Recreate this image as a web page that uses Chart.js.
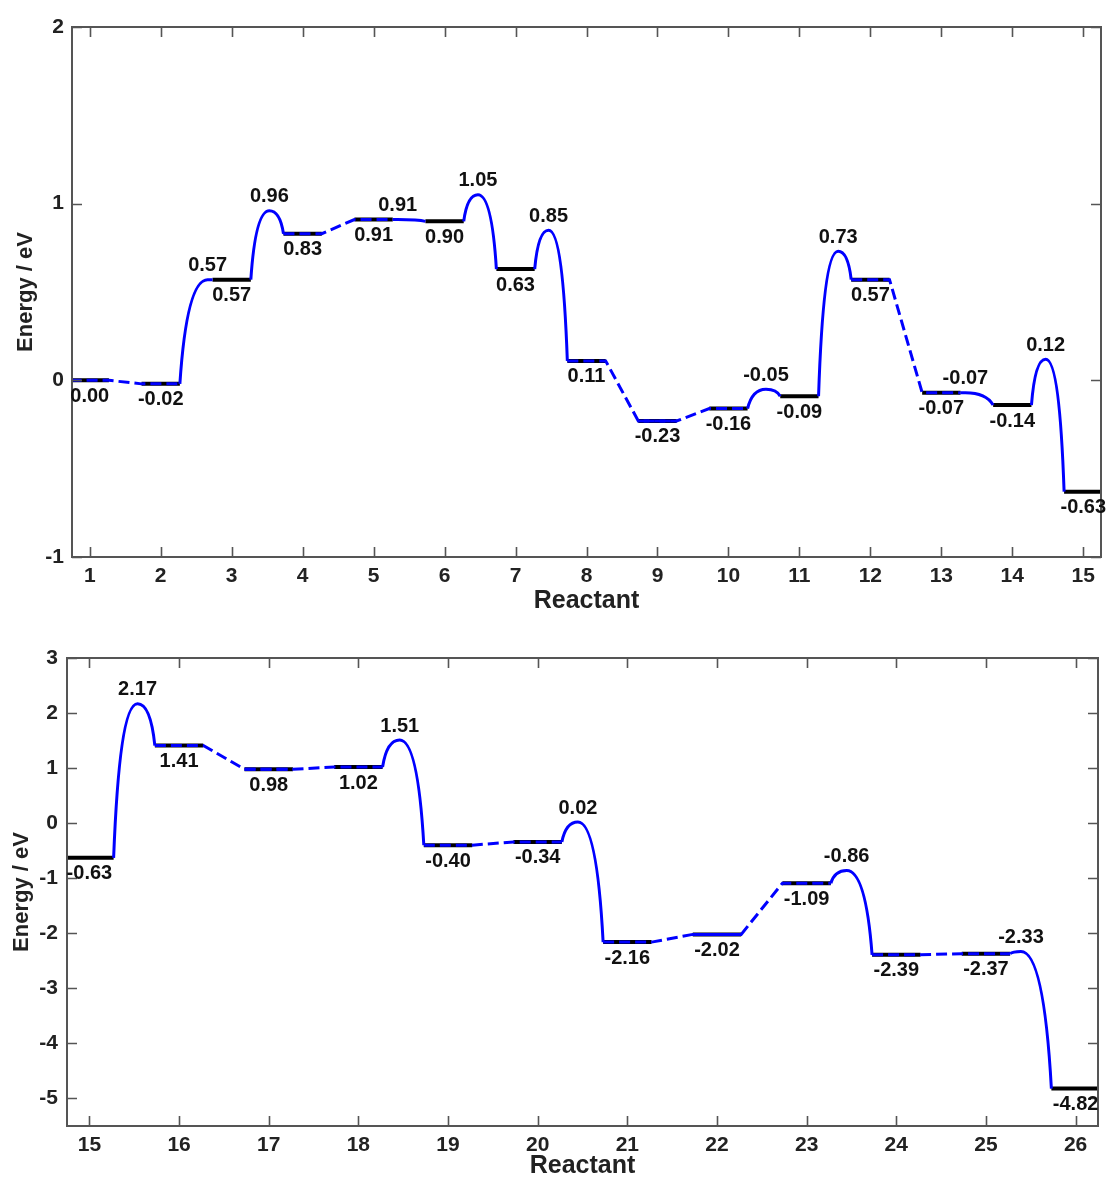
<!DOCTYPE html>
<html>
<head>
<meta charset="utf-8">
<title>Energy profile</title>
<script src="https://cdn.jsdelivr.net/npm/chart.js@4.4.1/dist/chart.umd.min.js"></script>
<style>
  html, body { margin: 0; padding: 0; background: #ffffff; }
  canvas { display: block; }
</style>
</head>
<body>
<canvas id="upper" width="1107" height="620"></canvas>
<canvas id="lower" width="1107" height="559"></canvas>
<script>
// ---- First half of the pathway: reactants 1–15 ----
const reactantsA = [1, 2, 3, 4, 5, 6, 7, 8, 9, 10, 11, 12, 13, 14, 15];
const levelsA    = [0.00, -0.02, 0.57, 0.83, 0.91, 0.90, 0.63, 0.11, -0.23, -0.16, -0.09, 0.57, -0.07, -0.14, -0.63];
// barrier between step i and i+1 (null = barrierless, drawn dashed)
const barriersA  = [null, 0.57, 0.96, null, 0.91, 1.05, 0.85, null, null, -0.05, 0.73, null, -0.07, 0.12];
const energyTicksA = [-1, 0, 1, 2];

// ---- Second half of the pathway: reactants 15–26 ----
const reactantsB = [15, 16, 17, 18, 19, 20, 21, 22, 23, 24, 25, 26];
const levelsB    = [-0.63, 1.41, 0.98, 1.02, -0.40, -0.34, -2.16, -2.02, -1.09, -2.39, -2.37, -4.82];
const barriersB  = [2.17, null, null, 1.51, null, 0.02, null, null, -0.86, null, -2.33];
const energyTicksB = [-5, -4, -3, -2, -1, 0, 1, 2, 3];

const FONT = '"Liberation Sans", Arial, Helvetica, sans-serif';
const BLUE = '#0000ff';
const HALF = 0.27;        // half-width of a level bar, in reactant units

// the crest of a barrier leans toward the higher of its two neighbouring levels
function crestPosition(x0, x1, eLeft, eTS, eRight) {
  const a = Math.pow(Math.max(eTS - eLeft, 0), 0.25);
  const b = Math.pow(Math.max(eTS - eRight, 0), 0.25);
  let f = (a + b) > 0 ? a / (a + b) : 0.5;
  f = Math.min(0.85, Math.max(0.15, f));
  return x0 + f * (x1 - x0);
}

function buildProfile(xs, levels, barriers) {
  const datasets = [];
  const notes = [];
  const crests = [];
  xs.forEach((x, i) => {
    datasets.push({
      data: [{ x: x - HALF, y: levels[i] }, { x: x + HALF, y: levels[i] }],
      borderColor: '#000000', borderWidth: 4, order: 1
    });
    notes.push({ x: x, y: levels[i], text: levels[i].toFixed(2), below: true });
  });
  barriers.forEach((ts, i) => {
    const xL = xs[i], xR = xs[i + 1], eL = levels[i], eR = levels[i + 1];
    if (ts === null) {
      datasets.push({
        data: [{ x: xL - HALF, y: eL }, { x: xL + HALF, y: eL }, { x: xR - HALF, y: eR }, { x: xR + HALF, y: eR }],
        borderColor: BLUE, borderWidth: 3, borderDash: [11, 5], order: 0
      });
    } else {
      const x0 = xL + HALF, x1 = xR - HALF;
      const xc = crestPosition(x0, x1, eL, ts, eR);
      crests.push({ x0, xc, x1, eL, ts, eR });
      notes.push({ x: xc, y: ts, text: ts.toFixed(2), below: false });
    }
  });
  return { datasets, notes, crests };
}

// barrier humps: rise steeply from one level, round over the transition state, drop to the next
const barrierPlugin = {
  id: 'barriers',
  afterDatasetsDraw(chart, args, opts) {
    const { ctx, chartArea: ca, scales: { x, y } } = chart;
    ctx.save();
    ctx.beginPath();
    ctx.rect(ca.left, ca.top - 2, ca.right - ca.left, ca.bottom - ca.top + 4);
    ctx.clip();
    ctx.strokeStyle = BLUE;
    ctx.lineWidth = 3;
    ctx.lineJoin = 'round';
    opts.crests.forEach(c => {
      const X0 = x.getPixelForValue(c.x0), XC = x.getPixelForValue(c.xc), X1 = x.getPixelForValue(c.x1);
      const Y0 = y.getPixelForValue(c.eL), YC = y.getPixelForValue(c.ts), Y1 = y.getPixelForValue(c.eR);
      const wL = XC - X0, wR = X1 - XC;
      ctx.beginPath();
      ctx.moveTo(X0, Y0);
      ctx.bezierCurveTo(X0 + 0.15 * wL, Y0 + 0.6 * (YC - Y0), X0 + 0.45 * wL, YC, XC, YC);
      ctx.bezierCurveTo(XC + 0.55 * wR, YC, X1 - 0.15 * wR, Y1 + 0.6 * (YC - Y1), X1, Y1);
      ctx.stroke();
    });
    ctx.restore();
  }
};

// box frame with inward tick marks on all four sides
const framePlugin = {
  id: 'frame',
  afterDraw(chart) {
    const { ctx, chartArea: { left, right, top, bottom }, scales: { x, y } } = chart;
    ctx.save();
    ctx.strokeStyle = '#555555';
    ctx.lineWidth = 2;
    ctx.strokeRect(left, top, right - left, bottom - top);
    ctx.beginPath();
    x.ticks.forEach(t => {
      const px = Math.round(x.getPixelForValue(t.value)) + 0.5;
      ctx.moveTo(px, bottom); ctx.lineTo(px, bottom - 10);
      ctx.moveTo(px, top);    ctx.lineTo(px, top + 10);
    });
    y.ticks.forEach(t => {
      const py = Math.round(y.getPixelForValue(t.value)) + 0.5;
      ctx.moveTo(left, py);  ctx.lineTo(left + 10, py);
      ctx.moveTo(right, py); ctx.lineTo(right - 10, py);
    });
    ctx.lineWidth = 1.6;
    ctx.stroke();
    ctx.restore();
  }
};

// energy values written under each level and over each barrier crest
const notesPlugin = {
  id: 'levelNotes',
  afterDraw(chart, args, opts) {
    const { ctx, scales: { x, y } } = chart;
    ctx.save();
    ctx.font = 'bold 20px ' + FONT;
    ctx.fillStyle = '#111111';
    ctx.textAlign = 'center';
    ctx.textBaseline = 'middle';
    opts.notes.forEach(n => {
      const px = x.getPixelForValue(n.x);
      const py = y.getPixelForValue(n.y);
      ctx.fillText(n.text, px, n.below ? py + 16 : py - 14);
    });
    ctx.restore();
  }
};

function makeChart(id, xs, levels, barriers, energyTicks, geom) {
  const { datasets, notes, crests } = buildProfile(xs, levels, barriers);
  const tickFont = { family: FONT, size: 21, weight: 'bold' };
  return new Chart(document.getElementById(id), {
    type: 'line',
    data: { datasets },
    options: {
      responsive: false,
      animation: false,
      devicePixelRatio: 1,
      layout: { padding: geom.padding, autoPadding: false },
      elements: { point: { radius: 0 }, line: { borderCapStyle: 'butt', fill: false } },
      plugins: {
        legend: { display: false },
        tooltip: { enabled: false },
        levelNotes: { notes },
        barriers: { crests }
      },
      scales: {
        x: {
          type: 'linear',
          min: xs[0] - 0.25,
          max: xs[xs.length - 1] + 0.25,
          grid: { display: false, drawTicks: false },
          border: { display: false },
          afterBuildTicks: s => { s.ticks = xs.map(v => ({ value: v })); },
          afterFit: s => { s.height = geom.xHeight; },
          ticks: { padding: 7, autoSkip: false, maxRotation: 0, font: tickFont, color: '#222222', callback: v => String(v) },
          title: {
            display: true, text: 'Reactant', color: '#222222',
            font: { family: FONT, size: 25, weight: 'bold', lineHeight: 1 },
            padding: { top: 0, bottom: geom.xTitlePad }
          }
        },
        y: {
          type: 'linear',
          min: geom.yMin,
          max: geom.yMax,
          grid: { display: false, drawTicks: false },
          border: { display: false },
          afterBuildTicks: s => { s.ticks = energyTicks.map(v => ({ value: v })); },
          afterFit: s => { s.width = geom.yWidth; },
          ticks: { padding: geom.yTickPad, font: tickFont, color: '#222222', callback: v => String(v) },
          title: {
            display: true, text: 'Energy / eV', color: '#222222',
            font: { family: FONT, size: 22, weight: 'bold', lineHeight: 1 },
            padding: { top: geom.yTitlePad, bottom: 0 }
          }
        }
      }
    },
    plugins: [barrierPlugin, framePlugin, notesPlugin]
  });
}

makeChart('upper', reactantsA, levelsA, barriersA, energyTicksA, {
  padding: { left: 0, right: 6, top: 27, bottom: 0 },
  xHeight: 63, yWidth: 72, yMin: -1, yMax: 2,
  xTitlePad: 6, yTitlePad: 15, yTickPad: 8
});

makeChart('lower', reactantsB, levelsB, barriersB, energyTicksB, {
  padding: { left: 0, right: 9, top: 38, bottom: 0 },
  xHeight: 53, yWidth: 67, yMin: -5.5, yMax: 3,
  xTitlePad: 0, yTitlePad: 11, yTickPad: 9
});
</script>
</body>
</html>
